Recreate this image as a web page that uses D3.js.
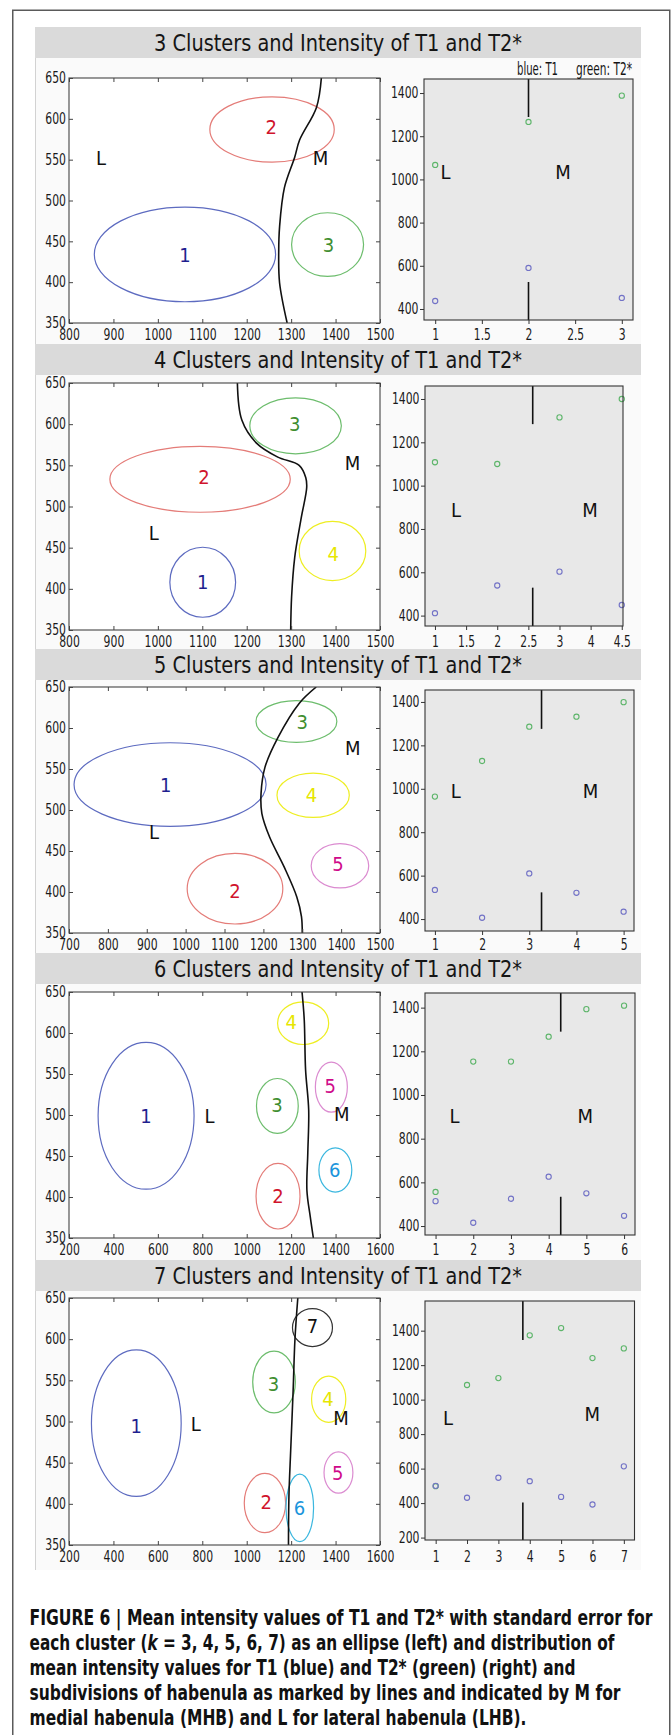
<!DOCTYPE html>
<html><head><meta charset="utf-8">
<script src="https://cdn.jsdelivr.net/npm/d3@7"></script>
<style>
body{margin:0;background:#fff;}
svg{display:block;}
text{font-family:"Liberation Sans Narrow","DejaVu Sans Condensed","Arial Narrow","Liberation Sans",sans-serif;}
</style></head><body>
<script>
// ================= DATA =================
const clusterCounts = [3, 4, 5, 6, 7];
const panelTitles = clusterCounts.map(k => k + " Clusters and Intensity of T1 and T2*");

// Left panels: cluster mean (cx, cy) with standard-error radii (rx, ry); label position (lx, ly)
const ellipses3 = [
  {id: "1", cx: 1061, cy: 434, rx: 204, ry: 58, lx: 1061, ly: 434},
  {id: "2", cx: 1257, cy: 587, rx: 140, ry: 40, lx: 1255, ly: 590},
  {id: "3", cx: 1382, cy: 446, rx: 81, ry: 39, lx: 1384, ly: 446}
];
const ellipses4 = [
  {id: "1", cx: 1101, cy: 408, rx: 74, ry: 42.5, lx: 1101, ly: 408},
  {id: "2", cx: 1095, cy: 533, rx: 203, ry: 40, lx: 1104, ly: 536},
  {id: "3", cx: 1310, cy: 598, rx: 103, ry: 34, lx: 1308, ly: 601},
  {id: "4", cx: 1393, cy: 446, rx: 75, ry: 36, lx: 1395, ly: 442}
];
const ellipses5 = [
  {id: "1", cx: 960, cy: 531, rx: 247, ry: 51, lx: 949, ly: 531},
  {id: "2", cx: 1127, cy: 404, rx: 123, ry: 43, lx: 1127, ly: 402},
  {id: "3", cx: 1285, cy: 608, rx: 104, ry: 25.5, lx: 1300, ly: 608},
  {id: "4", cx: 1328, cy: 518, rx: 93, ry: 27, lx: 1324, ly: 518},
  {id: "5", cx: 1397, cy: 432, rx: 74, ry: 27, lx: 1392, ly: 434}
];
const ellipses6 = [
  {id: "1", cx: 547, cy: 499, rx: 216, ry: 89.5, lx: 547, ly: 499},
  {id: "2", cx: 1141, cy: 401, rx: 99, ry: 40, lx: 1141, ly: 401},
  {id: "3", cx: 1138, cy: 511, rx: 94, ry: 33.5, lx: 1136, ly: 512},
  {id: "4", cx: 1254, cy: 612, rx: 115, ry: 26, lx: 1200, ly: 614},
  {id: "5", cx: 1381, cy: 534, rx: 72, ry: 30.5, lx: 1376, ly: 536},
  {id: "6", cx: 1399, cy: 433, rx: 74, ry: 27, lx: 1396, ly: 433}
];
const ellipses7 = [
  {id: "1", cx: 503, cy: 498, rx: 202, ry: 89, lx: 503, ly: 495},
  {id: "2", cx: 1082, cy: 401, rx: 93, ry: 36, lx: 1088, ly: 403},
  {id: "3", cx: 1123, cy: 548, rx: 96, ry: 37.5, lx: 1121, ly: 546},
  {id: "4", cx: 1369, cy: 527, rx: 77, ry: 28, lx: 1366, ly: 527},
  {id: "5", cx: 1413, cy: 438, rx: 65, ry: 25, lx: 1410, ly: 438},
  {id: "6", cx: 1239, cy: 395, rx: 62, ry: 41, lx: 1238, ly: 395},
  {id: "7", cx: 1296, cy: 614, rx: 90, ry: 23, lx: 1296, ly: 616}
];

// Subdivision boundary curves (left panels)
const boundary3 = [[1368,650],[1357,614],[1319,574],[1308,553],[1285,516],[1274,468],[1272,436],[1274,399],[1291,350]];
const boundary4 = [[1179,650],[1189,605],[1222,577],[1270,560],[1318,550],[1333,535],[1335,523],[1323,487],[1308,438],[1301,390],[1299,350]];
const boundary5 = [[1336,650],[1292,630],[1237,588],[1204,552],[1194,520],[1196,496],[1216,467],[1254,430],[1286,394],[1298,370],[1300,350]];
const boundary6 = [[1249,650],[1259,616],[1265,555],[1279,506],[1275,454],[1271,408],[1286,376],[1300,350]];
const boundary7 = [[1230,650],[1217,599],[1209,538],[1198,465],[1190,409],[1188,350]];

// L / M label positions in left panels
const leftLM3 = [{t: "L", x: 872, y: 552}, {t: "M", x: 1366, y: 552}];
const leftLM4 = [{t: "L", x: 991, y: 468}, {t: "M", x: 1438, y: 553}];
const leftLM5 = [{t: "L", x: 919, y: 474}, {t: "M", x: 1430, y: 576}];
const leftLM6 = [{t: "L", x: 832, y: 499}, {t: "M", x: 1428, y: 502}];
const leftLM7 = [{t: "L", x: 771, y: 497}, {t: "M", x: 1425, y: 504}];

// Left axes
const leftXDomain3 = [800, 1500], leftXTicks3 = [800, 900, 1000, 1100, 1200, 1300, 1400, 1500];
const leftXDomain4 = [800, 1500], leftXTicks4 = [800, 900, 1000, 1100, 1200, 1300, 1400, 1500];
const leftXDomain5 = [700, 1500], leftXTicks5 = [700, 800, 900, 1000, 1100, 1200, 1300, 1400, 1500];
const leftXDomain6 = [200, 1600], leftXTicks6 = [200, 400, 600, 800, 1000, 1200, 1400, 1600];
const leftXDomain7 = [200, 1600], leftXTicks7 = [200, 400, 600, 800, 1000, 1200, 1400, 1600];
const leftYDomain = [350, 650], leftYTicks = [350, 400, 450, 500, 550, 600, 650];

// Right panels: mean intensity per cluster
const t1Means3 = [437, 590, 451];
const t2Means3 = [1067, 1266, 1388];
const t1Means4 = [411, 539, 603, 449];
const t2Means4 = [1108, 1100, 1315, 1400];
const t1Means5 = [534, 406, 610, 521, 434];
const t2Means5 = [964, 1128, 1286, 1332, 1399];
const t1Means6 = [514, 415, 525, 626, 550, 447];
const t2Means6 = [556, 1153, 1153, 1267, 1393, 1409];
const t1Means7 = [500, 431, 547, 527, 436, 392, 613];
const t2Means7 = [498, 1085, 1125, 1373, 1415, 1241, 1297];

// Right axes
const rightXDomain3 = [0.88, 3.12], rightXTicks3 = [1, 1.5, 2, 2.5, 3], rightXLabels3 = ["1", "1.5", "2", "2.5", "3"];
const rightXDomain4 = [0.84, 4.02], rightXTicks4 = [1, 1.5, 2, 2.5, 3, 3.5, 4], rightXLabels4 = ["1", "1.5", "2", "2.5", "3", "4", "4.5"];
const rightXDomain5 = [0.79, 5.22], rightXTicks5 = [1, 2, 3, 4, 5], rightXLabels5 = ["1", "2", "3", "4", "5"];
const rightXDomain6 = [0.72, 6.29], rightXTicks6 = [1, 2, 3, 4, 5, 6], rightXLabels6 = ["1", "2", "3", "4", "5", "6"];
const rightXDomain7 = [0.66, 7.34], rightXTicks7 = [1, 2, 3, 4, 5, 6, 7], rightXLabels7 = ["1", "2", "3", "4", "5", "6", "7"];
const rightYDomain3 = [349, 1465], rightYDomain4 = [352, 1460], rightYDomain5 = [345, 1455],
      rightYDomain6 = [359, 1467], rightYDomain7 = [186, 1572];
const rightYTicks = [400, 600, 800, 1000, 1200, 1400];
const rightYTicks7 = [200, 400, 600, 800, 1000, 1200, 1400];

// Divider (L | M) in right panels: x position, end of upper segment, start of lower segment
const divider3 = {x: 2, top: 1289, bottom: 525};
const divider4 = {x: 2.57, top: 1284, bottom: 529};
const divider5 = {x: 3.26, top: 1276, bottom: 523};
const divider6 = {x: 4.32, top: 1290, bottom: 534};
const divider7 = {x: 3.78, top: 1346, bottom: 404};

const rightLM3 = [{t: "L", x: 1.11, y: 1034}, {t: "M", x: 2.37, y: 1034}];
const rightLM4 = [{t: "L", x: 1.34, y: 887}, {t: "M", x: 3.49, y: 887}];
const rightLM5 = [{t: "L", x: 1.44, y: 990}, {t: "M", x: 4.30, y: 990}];
const rightLM6 = [{t: "L", x: 1.50, y: 905}, {t: "M", x: 4.97, y: 905}];
const rightLM7 = [{t: "L", x: 1.39, y: 894}, {t: "M", x: 5.99, y: 919}];

const captionLines = [
  "FIGURE 6 | Mean intensity values of T1 and T2* with standard error for",
  "each cluster (§k§ = 3, 4, 5, 6, 7) as an ellipse (left) and distribution of",
  "mean intensity values for T1 (blue) and T2* (green) (right) and",
  "subdivisions of habenula as marked by lines and indicated by M for",
  "medial habenula (MHB) and L for lateral habenula (LHB)."
];

// ================= STYLE / LAYOUT =================
const clusterStroke = {"1": "#5d6bc0", "2": "#e47c78", "3": "#6dbd6d", "4": "#eeee22", "5": "#db8bd0", "6": "#3bb7df", "7": "#333333"};
const clusterLabel  = {"1": "#1f1f8f", "2": "#d0142c", "3": "#3f8e2f", "4": "#e6e600", "5": "#cf0a8a", "6": "#1b95dc", "7": "#111111"};
const titleTop = [27, 344, 649, 953, 1260];
const leftBoxX = [69, 380];
const leftBoxY = [[78, 323], [383, 630], [687, 933], [992, 1238], [1298, 1545]];
const rightBoxX = [[424, 633], [425, 623], [425, 634], [425, 635], [425, 634.5]];
const rightBoxY = [[79, 320], [386, 626], [690, 931], [993, 1235], [1301, 1540]];
const captionWidths = [623, 585, 546, 591, 497];

const panels = [
  {ell: ellipses3, bound: boundary3, lm: leftLM3, lxd: leftXDomain3, lxt: leftXTicks3, rxd: rightXDomain3, rxt: rightXTicks3, rxl: rightXLabels3, ryd: rightYDomain3, ryt: rightYTicks, t1: t1Means3, t2: t2Means3, div: divider3, rlm: rightLM3},
  {ell: ellipses4, bound: boundary4, lm: leftLM4, lxd: leftXDomain4, lxt: leftXTicks4, rxd: rightXDomain4, rxt: rightXTicks4, rxl: rightXLabels4, ryd: rightYDomain4, ryt: rightYTicks, t1: t1Means4, t2: t2Means4, div: divider4, rlm: rightLM4},
  {ell: ellipses5, bound: boundary5, lm: leftLM5, lxd: leftXDomain5, lxt: leftXTicks5, rxd: rightXDomain5, rxt: rightXTicks5, rxl: rightXLabels5, ryd: rightYDomain5, ryt: rightYTicks, t1: t1Means5, t2: t2Means5, div: divider5, rlm: rightLM5},
  {ell: ellipses6, bound: boundary6, lm: leftLM6, lxd: leftXDomain6, lxt: leftXTicks6, rxd: rightXDomain6, rxt: rightXTicks6, rxl: rightXLabels6, ryd: rightYDomain6, ryt: rightYTicks, t1: t1Means6, t2: t2Means6, div: divider6, rlm: rightLM6},
  {ell: ellipses7, bound: boundary7, lm: leftLM7, lxd: leftXDomain7, lxt: leftXTicks7, rxd: rightXDomain7, rxt: rightXTicks7, rxl: rightXLabels7, ryd: rightYDomain7, ryt: rightYTicks7, t1: t1Means7, t2: t2Means7, div: divider7, rlm: rightLM7}
];

// ================= DRAW =================
const W = 671, H = 1735;
const svg = d3.select("body").append("svg").attr("width", W).attr("height", H);
const defs = svg.append("defs");

svg.append("rect").attr("x", 12.75).attr("y", 10.25).attr("width", 657).attr("height", 1760)
  .attr("fill", "#fff").attr("stroke", "#5a5a5a").attr("stroke-width", 1.5);
svg.append("rect").attr("x", 35).attr("y", 27).attr("width", 606).attr("height", 1543).attr("fill", "#fafafa");
svg.append("line").attr("x1", 35.5).attr("x2", 35.5).attr("y1", 27).attr("y2", 1570).attr("stroke", "#d2d2d2");

// condensed look: force tick label widths like the narrow original font
function labelWidth(s) {
  let w = 0;
  for (const c of s) w += (c === "." ? 3.2 : c === "," ? 3.2 : 6.9);
  return w;
}
function styleAxisText(g, size) {
  g.attr("font-family", null);
  g.selectAll("text").attr("font-size", size).attr("fill", "#1a1a1a")
    .each(function () {
      const s = this.textContent;
      if (s) d3.select(this).attr("textLength", labelWidth(s)).attr("lengthAdjust", "spacingAndGlyphs");
    });
}
const fmt = d3.format("d");

panels.forEach((p, i) => {
  // title bar
  svg.append("rect").attr("x", 35).attr("y", titleTop[i]).attr("width", 606).attr("height", 31).attr("fill", "#dadada");
  svg.append("text").attr("x", 338).attr("y", titleTop[i] + 23.5)
    .attr("text-anchor", "middle").attr("font-size", 23).attr("fill", "#151515")
    .attr("textLength", 368).attr("lengthAdjust", "spacingAndGlyphs")
    .text(panelTitles[i]);

  // ---------- left panel ----------
  const [ly0, ly1] = leftBoxY[i];
  const x = d3.scaleLinear().domain(p.lxd).range(leftBoxX);
  const y = d3.scaleLinear().domain(leftYDomain).range([ly1, ly0]);
  const gl = svg.append("g");
  gl.append("rect").attr("x", leftBoxX[0]).attr("y", ly0).attr("width", leftBoxX[1] - leftBoxX[0]).attr("height", ly1 - ly0).attr("fill", "#fff");
  const clipId = "clipL" + i;
  defs.append("clipPath").attr("id", clipId).append("rect")
    .attr("x", leftBoxX[0]).attr("y", ly0).attr("width", leftBoxX[1] - leftBoxX[0]).attr("height", ly1 - ly0);
  const inner = gl.append("g").attr("clip-path", `url(#${clipId})`);

  inner.selectAll("ellipse").data(p.ell).join("ellipse")
    .attr("cx", d => x(d.cx)).attr("cy", d => y(d.cy))
    .attr("rx", d => x(d.cx + d.rx) - x(d.cx)).attr("ry", d => y(d.cy - d.ry) - y(d.cy))
    .attr("fill", "none").attr("stroke", d => clusterStroke[d.id]).attr("stroke-width", 1.2);
  inner.selectAll("text.cl").data(p.ell).join("text").attr("class", "cl")
    .attr("x", d => x(d.lx)).attr("y", d => y(d.ly)).attr("dy", "0.36em")
    .attr("text-anchor", "middle").attr("font-size", 20).attr("fill", d => clusterLabel[d.id])
    .text(d => d.id);
  const line = d3.line().x(d => x(d[0])).y(d => y(d[1])).curve(d3.curveCatmullRom.alpha(0.5));
  inner.append("path").attr("d", line(p.bound)).attr("fill", "none").attr("stroke", "#111").attr("stroke-width", 1.6);
  inner.selectAll("text.lm").data(p.lm).join("text").attr("class", "lm")
    .attr("x", d => x(d.x)).attr("y", d => y(d.y)).attr("dy", "0.36em")
    .attr("text-anchor", "middle").attr("font-size", 20).attr("fill", "#111").text(d => d.t);

  // axes (inward ticks, all four sides)
  const axB = gl.append("g").attr("transform", `translate(0,${ly1})`)
    .call(d3.axisBottom(x).tickValues(p.lxt).tickFormat(fmt).tickSize(-4).tickSizeOuter(0).tickPadding(0));
  axB.selectAll("text").attr("dy", null).attr("y", 16.5);
  styleAxisText(axB, 15);
  const axT = gl.append("g").attr("transform", `translate(0,${ly0})`)
    .call(d3.axisTop(x).tickValues(p.lxt).tickSize(-4).tickSizeOuter(0).tickFormat(""));
  const axL = gl.append("g").attr("transform", `translate(${leftBoxX[0]},0)`)
    .call(d3.axisLeft(y).tickValues(leftYTicks).tickFormat(fmt).tickSize(-4).tickSizeOuter(0).tickPadding(3));
  styleAxisText(axL, 15);
  const axR = gl.append("g").attr("transform", `translate(${leftBoxX[1]},0)`)
    .call(d3.axisRight(y).tickValues(leftYTicks).tickSize(-4).tickSizeOuter(0).tickFormat(""));
  [axB, axT, axL, axR].forEach(a => { a.select(".domain").remove(); a.selectAll("line").attr("stroke", "#444"); });
  gl.append("rect").attr("x", leftBoxX[0]).attr("y", ly0).attr("width", leftBoxX[1] - leftBoxX[0]).attr("height", ly1 - ly0)
    .attr("fill", "none").attr("stroke", "#444").attr("stroke-width", 1.1);

  // ---------- right panel ----------
  const [rx0, rx1] = rightBoxX[i];
  const [ry0, ry1] = rightBoxY[i];
  const xr = d3.scaleLinear().domain(p.rxd).range([rx0, rx1]);
  const yr = d3.scaleLinear().domain(p.ryd).range([ry1, ry0]);
  const gr = svg.append("g");
  gr.append("rect").attr("x", rx0).attr("y", ry0).attr("width", rx1 - rx0).attr("height", ry1 - ry0).attr("fill", "#e8e8e8");

  gr.append("line").attr("x1", xr(p.div.x)).attr("x2", xr(p.div.x)).attr("y1", ry0).attr("y2", yr(p.div.top))
    .attr("stroke", "#111").attr("stroke-width", 1.6);
  gr.append("line").attr("x1", xr(p.div.x)).attr("x2", xr(p.div.x)).attr("y1", yr(p.div.bottom)).attr("y2", ry1)
    .attr("stroke", "#111").attr("stroke-width", 1.6);

  gr.selectAll("circle.t2").data(p.t2).join("circle").attr("class", "t2")
    .attr("cx", (d, j) => xr(j + 1)).attr("cy", d => yr(d)).attr("r", 2.6)
    .attr("fill", "none").attr("stroke", "#5db56a").attr("stroke-width", 1.1);
  gr.selectAll("circle.t1").data(p.t1).join("circle").attr("class", "t1")
    .attr("cx", (d, j) => xr(j + 1)).attr("cy", d => yr(d)).attr("r", 2.6)
    .attr("fill", "none").attr("stroke", "#7272c6").attr("stroke-width", 1.1);

  gr.selectAll("text.lm").data(p.rlm).join("text").attr("class", "lm")
    .attr("x", d => xr(d.x)).attr("y", d => yr(d.y)).attr("dy", "0.36em")
    .attr("text-anchor", "middle").attr("font-size", 20).attr("fill", "#111").text(d => d.t);

  const rAxB = gr.append("g").attr("transform", `translate(0,${ry1})`)
    .call(d3.axisBottom(xr).tickValues(p.rxt).tickSize(4).tickSizeOuter(0).tickFormat((d, j) => p.rxl[j]));
  rAxB.selectAll("text").attr("dy", null).attr("y", ly1 + 16.5 - ry1);
  styleAxisText(rAxB, 15);
  const rAxL = gr.append("g").attr("transform", `translate(${rx0},0)`)
    .call(d3.axisLeft(yr).tickValues(p.ryt).tickFormat(fmt).tickSize(4).tickSizeOuter(0).tickPadding(1.5));
  styleAxisText(rAxL, 15);
  [rAxB, rAxL].forEach(a => { a.select(".domain").remove(); a.selectAll("line").attr("stroke", "#333"); });
  gr.append("rect").attr("x", rx0).attr("y", ry0).attr("width", rx1 - rx0).attr("height", ry1 - ry0)
    .attr("fill", "none").attr("stroke", "#333").attr("stroke-width", 1.1);
});

// legend (top right)
svg.append("text").attr("x", 517).attr("y", 74.5).attr("font-size", 17).attr("fill", "#151515")
  .attr("textLength", 41).attr("lengthAdjust", "spacingAndGlyphs").text("blue: T1");
svg.append("text").attr("x", 576).attr("y", 74.5).attr("font-size", 17).attr("fill", "#151515")
  .attr("textLength", 56).attr("lengthAdjust", "spacingAndGlyphs").text("green: T2*");

// caption
captionLines.forEach((ln, i) => {
  const t = svg.append("text").attr("x", 29.5).attr("y", 1625 + 25 * i)
    .attr("font-size", 21).attr("font-weight", "bold").attr("fill", "#111")
    .attr("textLength", captionWidths[i]).attr("lengthAdjust", "spacingAndGlyphs");
  ln.split("§").forEach((part, j) => {
    t.append("tspan").attr("font-style", j % 2 === 1 ? "italic" : null).text(part);
  });
});
</script>
</body></html>
